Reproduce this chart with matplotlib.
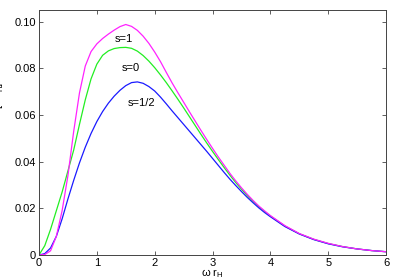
import matplotlib
matplotlib.use("Agg")
import matplotlib.pyplot as plt

plt.rcParams["font.family"] = ["Liberation Sans", "DejaVu Sans"]
plt.rcParams["mathtext.fontset"] = "custom"
plt.rcParams["mathtext.rm"] = "Liberation Sans"

# omega * r_H
w = [0.0, 0.1, 0.2, 0.3, 0.4, 0.5, 0.6, 0.7, 0.8, 0.9,
     1.0, 1.1, 1.2, 1.3, 1.4, 1.5, 1.6, 1.7, 1.8, 1.9,
     2.0, 2.1, 2.2, 2.3, 2.4, 2.5, 2.6, 2.7, 2.8, 2.9,
     3.0, 3.1, 3.2, 3.3, 3.4, 3.5, 3.6, 3.7, 3.8, 3.9,
     4.0, 4.25, 4.5, 4.75, 5.0, 5.25, 5.5, 5.75, 6.0]

# s = 0 (green)
s0 = [0.0, 0.004, 0.011, 0.019, 0.027, 0.036, 0.045, 0.056, 0.0665, 0.0755,
      0.0818, 0.0856, 0.0875, 0.0885, 0.0889, 0.0890, 0.0886, 0.0874, 0.0855, 0.0831,
      0.0803, 0.0772, 0.0739, 0.0704, 0.0668, 0.0631, 0.0593, 0.0555, 0.0517, 0.0480,
      0.0444, 0.0409, 0.0375, 0.0342, 0.0311, 0.0282, 0.0255, 0.0230, 0.0207, 0.0186,
      0.0167, 0.0124, 0.0091, 0.0067, 0.0049, 0.0036, 0.0026, 0.0019, 0.0014]

# s = 1/2 (blue)
s12 = [0.0, 0.0006, 0.0030, 0.0080, 0.0155, 0.0240, 0.0320, 0.0395, 0.0462, 0.0521,
       0.0572, 0.0615, 0.0651, 0.0681, 0.0706, 0.0726, 0.0739, 0.0742, 0.0736, 0.0722,
       0.0703, 0.0677, 0.0648, 0.0618, 0.0589, 0.0560, 0.0531, 0.0502, 0.0473, 0.0444,
       0.0414, 0.0384, 0.0354, 0.0325, 0.0298, 0.0272, 0.0247, 0.0224, 0.0202, 0.0182,
       0.0164, 0.0122, 0.0090, 0.0066, 0.0048, 0.0035, 0.0026, 0.0019, 0.0014]

# s = 1 (magenta)
s1 = [0.0, 0.0002, 0.0018, 0.0080, 0.0190, 0.0340, 0.0530, 0.0695, 0.0810, 0.0872,
      0.0905, 0.0928, 0.0947, 0.0964, 0.0979, 0.0988, 0.0980, 0.0963, 0.0938, 0.0907,
      0.0870, 0.0829, 0.0783, 0.0738, 0.0696, 0.0655, 0.0614, 0.0574, 0.0534, 0.0495,
      0.0457, 0.0420, 0.0385, 0.0350, 0.0318, 0.0288, 0.0260, 0.0234, 0.0210, 0.0189,
      0.0169, 0.0126, 0.0092, 0.0068, 0.0050, 0.0036, 0.0026, 0.0019, 0.0014]

xticks = [0, 1, 2, 3, 4, 5, 6]
yticks = [0, 0.02, 0.04, 0.06, 0.08, 0.10]
ytick_labels = ["0", "0.02", "0.04", "0.06", "0.08", "0.10"]

fig = plt.figure(figsize=(3.99, 2.79), dpi=100)
ax = fig.add_axes([0.0977, 0.086, 0.870, 0.878])

ax.plot(w, s0, color="#22ee22", lw=0.9)
ax.plot(w, s12, color="#1a1aff", lw=0.9)
ax.plot(w, s1, color="#ff22ff", lw=0.9)

ax.text(1.47, 0.0925, "s=1", fontsize=8, ha="center", va="center")
ax.text(1.58, 0.0801, "s=0", fontsize=8, ha="center", va="center")
ax.text(1.77, 0.0650, "s=1/2", fontsize=8, ha="center", va="center")

ax.set_xlim(0, 6)
ax.set_ylim(0, 0.105)
ax.set_xticks(xticks)
ax.set_xticklabels([str(t) for t in xticks])
ax.set_yticks(yticks)
ax.set_yticklabels(ytick_labels)
ax.tick_params(direction="in", length=3, width=0.6, labelsize=8,
               top=True, right=True, pad=2, color="#444444")
for sp in ax.spines.values():
    sp.set_color("#444444")
    sp.set_linewidth(0.7)

ax.set_xlabel(r"ω r$_\mathregular{H}$", fontsize=8, labelpad=-0.5)
# y label sits mostly outside the figure, as in the original
fig.text(0.016, 0.56, r"d$^2$E/dt dω  [1/r$_\mathregular{H}$]", rotation=90,
         ha="right", va="center", fontsize=8)

fig.savefig("out.png", dpi=100)
